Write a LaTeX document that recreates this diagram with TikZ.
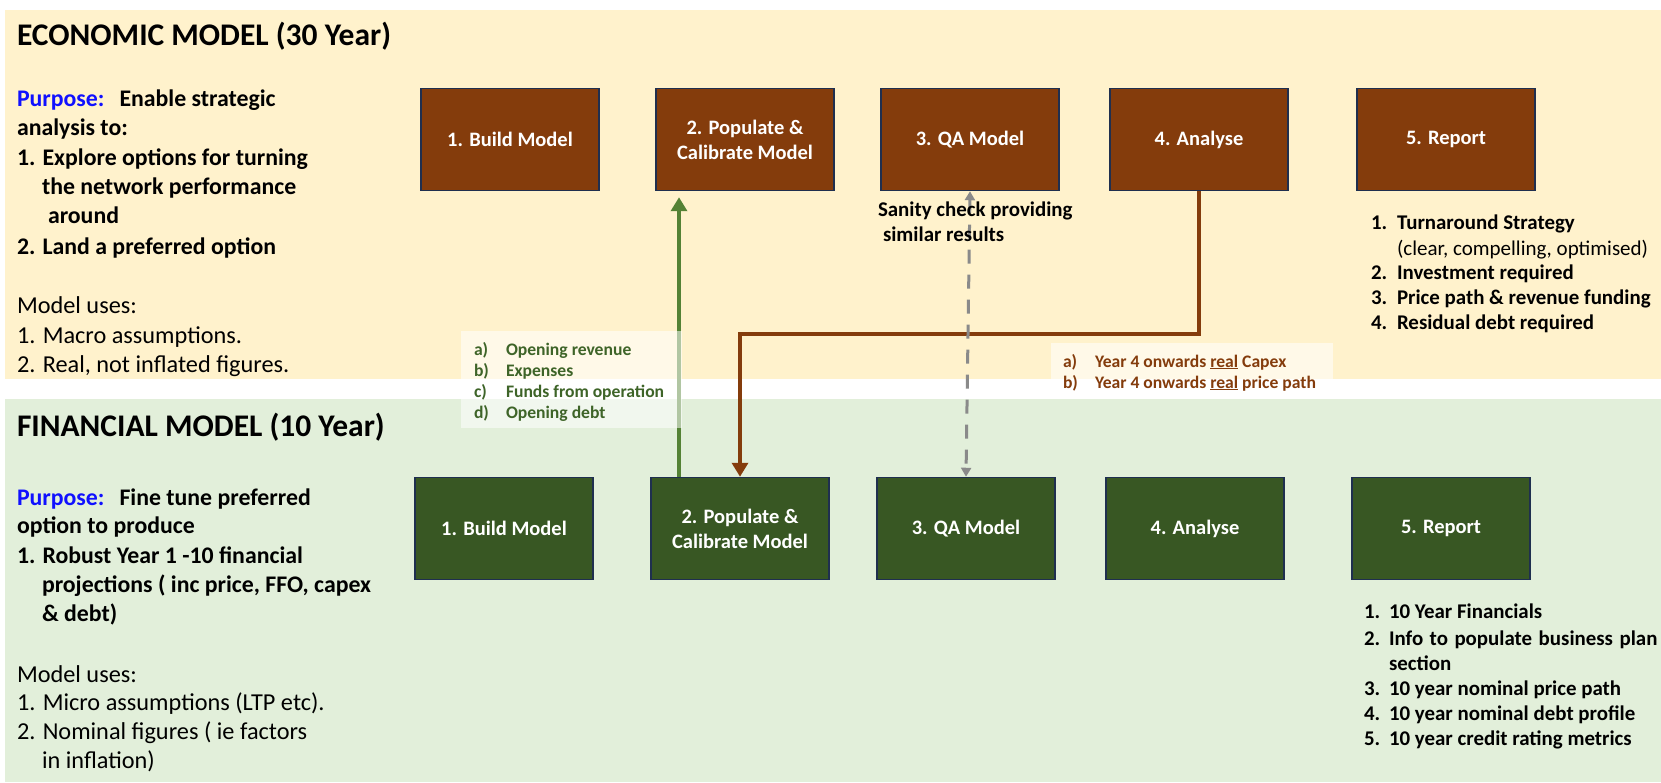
\documentclass[tikz,border=0pt]{standalone}
\usepackage{fontspec}
\setmainfont{Carlito}
\usetikzlibrary{arrows.meta}

\definecolor{ecoband}{HTML}{FFF2CC}
\definecolor{finband}{HTML}{E2EFDA}
\definecolor{ecobrown}{HTML}{843C0C}
\definecolor{fingreen}{HTML}{385723}
\definecolor{boxline}{HTML}{1F2F4F}
\definecolor{feedgreen}{HTML}{548235}
\definecolor{labelgreen}{HTML}{3E6428}
\definecolor{checkgrey}{HTML}{8A8A8A}
\definecolor{purposeblue}{HTML}{1010FF}

\begin{document}
\begin{tikzpicture}[x=1pt,y=-1pt,
  stage/.style={draw=boxline, line width=1.5pt, minimum width=178pt,
    minimum height=102pt, inner sep=0pt, text=white, align=center,
    font=\bfseries\fontsize{20.5}{25}\selectfont},
  ecostage/.style={stage, fill=ecobrown},
  finstage/.style={stage, fill=fingreen},
  ln/.style={anchor=base west, inner sep=0pt, outer sep=0pt},
  titletext/.style={ln, font=\bfseries\fontsize{31.5}{38}\selectfont},
  bodybold/.style={ln, font=\bfseries\fontsize{23.8}{29}\selectfont},
  bodyreg/.style={ln, font=\fontsize{24.3}{29}\selectfont},
  listbold/.style={ln, font=\bfseries\fontsize{20.9}{25}\selectfont},
  listreg/.style={ln, font=\fontsize{21}{25}\selectfont},
  flowlabel/.style={ln, font=\bfseries\fontsize{17.6}{21}\selectfont},
  labelpanel/.style={fill=white, fill opacity=0.55, draw=none},
  feed/.style={line width=4.5pt},
]
\useasboundingbox (0,0) rectangle (1661,783);
\fill[white] (0,0) rectangle (1661,783);

% background bands
\fill[ecoband] (5,10) rectangle (1661,379);
\fill[finband] (5,399) rectangle (1661,782);

% economic model stages
\node[ecostage] (eb1) at (510,139.5) {1. Build Model};
\node[ecostage] (eb2) at (745,139.5) {2. Populate \&\\Calibrate Model};
\node[ecostage] (eb3) at (970,139.5) {3. QA Model};
\node[ecostage] (eb4) at (1199,139.5) {4. Analyse};
\node[ecostage] (eb5) at (1446,139.5) {5. Report};

% financial model stages
\node[finstage] (fb1) at (504,528.5) {1. Build Model};
\node[finstage] (fb2) at (740,528.5) {2. Populate \&\\Calibrate Model};
\node[finstage] (fb3) at (966,528.5) {3. QA Model};
\node[finstage] (fb4) at (1195,528.5) {4. Analyse};
\node[finstage] (fb5) at (1441,528.5) {5. Report};

% financial -> economic feed (green)
\draw[feed, feedgreen, -{Triangle[width=16pt,length=14pt]}, shorten >=6pt]
  ([xshift=-61pt]fb2.north) -- ([xshift=-61pt]fb2.north |- eb2.south);

\fill[labelpanel] (461,331) rectangle (682,428);
\node[flowlabel, text=labelgreen] (ga) at (474,355) {a)};
\node[flowlabel, text=labelgreen] (gat) at (506,355) {Opening revenue};
\node[flowlabel, text=labelgreen] (gb) at (474,376) {b)};
\node[flowlabel, text=labelgreen] (gbt) at (506,376) {Expenses};
\node[flowlabel, text=labelgreen] (gc) at (474,397) {c)};
\node[flowlabel, text=labelgreen] (gct) at (506,397) {Funds from operation};
\node[flowlabel, text=labelgreen] (gd) at (474,418) {d)};
\node[flowlabel, text=labelgreen] (gdt) at (506,418) {Opening debt};

% economic -> financial feed (brown)
\coordinate (elbow) at (0,334);
\draw[feed, ecobrown, -{Triangle[width=16pt,length=14pt]}]
  (eb4.south) -- (eb4.south |- elbow) -| (fb2.north);

\fill[labelpanel] (1051,343) rectangle (1333,397);
\node[flowlabel, text=ecobrown] (ba) at (1063,367) {a)};
\node[flowlabel, text=ecobrown] (bat) at (1095,367) {Year 4 onwards \underline{real} Capex};
\node[flowlabel, text=ecobrown] (bb) at (1063,388) {b)};
\node[flowlabel, text=ecobrown] (bbt) at (1095,388) {Year 4 onwards \underline{real} price path};

% QA cross-check (grey dashed)
\draw[checkgrey, line width=3pt, dash pattern=on 14pt off 11pt,
  {Triangle[width=10pt,length=9pt]}-{Triangle[width=10pt,length=9pt]}]
  (eb3.south) -- (fb3.north);
\node[listbold] (san1) at (878,217) {Sanity check providing};
\node[listbold] (san2) at (883,242) {similar results};

% economic model description
\node[titletext] (etitle) at (17,46) {ECONOMIC MODEL (30 Year)};
\node[bodybold] (ep1) at (17,107) {\textcolor{purposeblue}{Purpose:}\hspace{15pt}Enable strategic};
\node[bodybold] (ep2) at (17,136) {analysis to:};
\node[bodybold] (ep3) at (17,166) {1. Explore options for turning};
\node[bodybold] (ep4) at (42,195) {the network performance};
\node[bodybold] (ep5) at (48,224) {around};
\node[bodybold] (ep6) at (17,255) {2. Land a preferred option};
\node[bodyreg] (eu1) at (17,314) {Model uses:};
\node[bodyreg] (eu2) at (17,343) {1. Macro assumptions.};
\node[bodyreg] (eu3) at (17,372) {2. Real, not inflated figures.};

% financial model description
\node[titletext] (ftitle) at (17,436) {FINANCIAL MODEL (10 Year)};
\node[bodybold] (fp1) at (17,505) {\textcolor{purposeblue}{Purpose:}\hspace{15pt}Fine tune preferred};
\node[bodybold] (fp2) at (17,533) {option to produce};
\node[bodybold] (fp3) at (17,563) {1. Robust Year 1 -10 financial};
\node[bodybold] (fp4) at (42,592) {projections ( inc price, FFO, capex};
\node[bodybold] (fp5) at (42,621) {\& debt)};
\node[bodyreg] (fu1) at (17,682) {Model uses:};
\node[bodyreg] (fu2) at (17,710) {1. Micro assumptions (LTP etc).};
\node[bodyreg] (fu3) at (17,739) {2. Nominal figures ( ie factors};
\node[bodyreg] (fu4) at (42,768) {in inflation)};

% economic report outputs
\node[listbold] (er1n) at (1371,230) {1.};
\node[listbold] (er1) at (1397,230) {Turnaround Strategy};
\node[listreg] (er1b) at (1397,256) {(clear, compelling, optimised)};
\node[listbold] (er2n) at (1371,280) {2.};
\node[listbold] (er2) at (1397,280) {Investment required};
\node[listbold] (er3n) at (1371,305) {3.};
\node[listbold] (er3) at (1397,305) {Price path \& revenue funding};
\node[listbold] (er4n) at (1371,330) {4.};
\node[listbold] (er4) at (1397,330) {Residual debt required};

% financial report outputs
\node[listbold] (fr1n) at (1364,618) {1.};
\node[listbold] (fr1) at (1389,618) {10 Year Financials};
\node[listbold] (fr2n) at (1364,645) {2.};
\node[listbold] (fr2) at (1389,645) {Info\hspace{6.5pt}to\hspace{6.5pt}populate\hspace{6.5pt}business\hspace{6.5pt}plan};
\node[listbold] (fr2b) at (1389,670) {section};
\node[listbold] (fr3n) at (1364,695) {3.};
\node[listbold] (fr3) at (1389,695) {10 year nominal price path};
\node[listbold] (fr4n) at (1364,720) {4.};
\node[listbold] (fr4) at (1389,720) {10 year nominal debt profile};
\node[listbold] (fr5n) at (1364,745) {5.};
\node[listbold] (fr5) at (1389,745) {10 year credit rating metrics};
\end{tikzpicture}
\end{document}
